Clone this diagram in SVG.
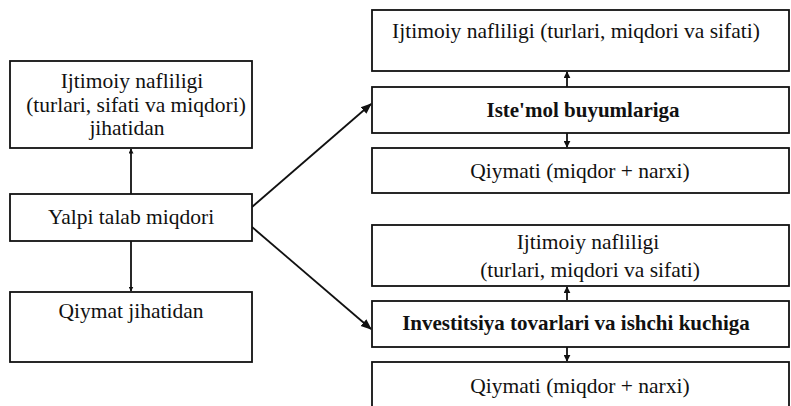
<svg xmlns="http://www.w3.org/2000/svg" width="791" height="406" viewBox="0 0 791 406">
<style>
.box{fill:#fff;stroke:#111;stroke-width:1.8}
.t{font-family:"Liberation Serif","Times New Roman",serif;font-size:21.5px;fill:#111;text-anchor:middle}
.b{font-weight:bold;font-size:21px}
.c{stroke:#111;stroke-width:1.8;fill:none}
</style>
<defs>
<marker id="ah" viewBox="0 0 10 10" refX="9" refY="5" markerWidth="5" markerHeight="5" orient="auto" markerUnits="userSpaceOnUse">
<path d="M0,0 L10,5 L0,10 Z" fill="#111"/>
</marker>
<marker id="ahs" viewBox="0 0 10 10" refX="9" refY="5" markerWidth="7" markerHeight="7" orient="auto" markerUnits="userSpaceOnUse">
<path d="M0,0 L10,5 L0,10 Z" fill="#111"/>
</marker>
<marker id="ahd" viewBox="0 0 10 10" refX="9" refY="5" markerWidth="11" markerHeight="11" orient="auto" markerUnits="userSpaceOnUse">
<path d="M0,1 L10,5 L0,9 Z" fill="#111"/>
</marker>
</defs>
<rect width="791" height="406" fill="#fff"/>
<g id="connectors">
<line class="c" x1="131" y1="194" x2="131" y2="149" marker-end="url(#ah)"/>
<line class="c" x1="131" y1="241" x2="131" y2="291" marker-end="url(#ah)"/>
<line class="c" x1="252" y1="207" x2="371" y2="104" marker-end="url(#ahd)"/>
<line class="c" x1="252" y1="227" x2="371" y2="329" marker-end="url(#ahd)"/>
<line class="c" x1="567" y1="87" x2="567" y2="72" marker-end="url(#ahs)"/>
<line class="c" x1="567" y1="133" x2="567" y2="147" marker-end="url(#ahs)"/>
<line class="c" x1="567" y1="300" x2="567" y2="287" marker-end="url(#ahs)"/>
<line class="c" x1="567" y1="347" x2="567" y2="361" marker-end="url(#ahs)"/>
</g>
<g id="n-ijtimoiy-left">
<rect class="box" x="10" y="61" width="242" height="87"/>
<text class="t" x="132" y="88">Ijtimoiy nafliligi</text>
<text class="t" x="136" y="112">(turlari, sifati va miqdori)</text>
<text class="t" x="127" y="135">jihatidan</text>
</g>
<g id="n-yalpi">
<rect class="box" x="10" y="194" width="242" height="47"/>
<text class="t" x="131" y="224">Yalpi talab miqdori</text>
</g>
<g id="n-qiymat-left">
<rect class="box" x="10" y="292" width="242" height="70"/>
<text class="t" x="131" y="318">Qiymat jihatidan</text>
</g>
<g id="n-r1">
<rect class="box" x="372" y="10" width="417" height="61"/>
<text class="t" x="576" y="38">Ijtimoiy nafliligi (turlari, miqdori va sifati)</text>
</g>
<g id="n-r2">
<rect class="box" x="372" y="87" width="417" height="46"/>
<text class="t b" x="583" y="117">Iste'mol buyumlariga</text>
</g>
<g id="n-r3">
<rect class="box" x="372" y="148" width="417" height="45"/>
<text class="t" x="580" y="178">Qiymati (miqdor + narxi)</text>
</g>
<g id="n-r4">
<rect class="box" x="372" y="225" width="417" height="61"/>
<text class="t" x="588" y="249">Ijtimoiy nafliligi</text>
<text class="t" x="590" y="277">(turlari, miqdori va sifati)</text>
</g>
<g id="n-r5">
<rect class="box" x="372" y="301" width="417" height="46"/>
<text class="t b" x="576" y="330">Investitsiya tovarlari va ishchi kuchiga</text>
</g>
<g id="n-r6">
<rect class="box" x="372" y="362" width="417" height="50"/>
<text class="t" x="580" y="393">Qiymati (miqdor + narxi)</text>
</g>
</svg>
